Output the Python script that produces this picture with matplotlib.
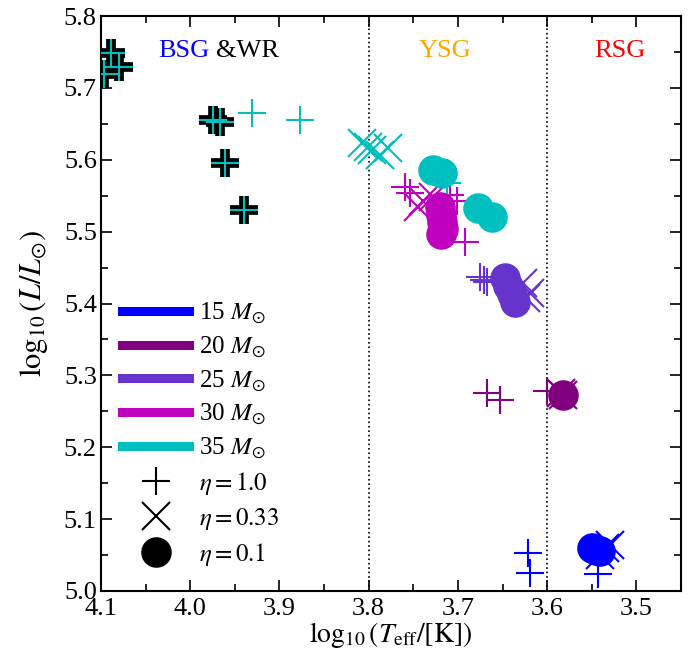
import matplotlib
matplotlib.use("Agg")
import matplotlib.pyplot as plt
from matplotlib.lines import Line2D
from matplotlib.ticker import MultipleLocator, FormatStrFormatter

plt.rcParams['font.family'] = ['Liberation Serif', 'DejaVu Serif']
plt.rcParams['mathtext.fontset'] = 'stix'

masses = ["15", "20", "25", "30", "35"]
colors = ["#0000ff", "#800080", "#6633cc", "#bf00bf", "#00bfbf"]

# eta = 1.0 (plus)
plus_T = {
    "15": [3.6213, 3.619, 3.5428],
    "20": [3.6673, 3.6527, 3.600],
    "25": [3.6751, 3.6706, 3.6673],
    "30": [3.759, 3.7536, 3.692, 3.7088, 3.701],
    "35": [3.9307, 3.8769, 3.712],
}
plus_L = {
    "15": [5.0528, 5.025, 5.0236],
    "20": [5.2754, 5.2656, 5.278],
    "25": [5.4367, 5.4325, 5.4298],
    "30": [5.562, 5.5535, 5.4855, 5.551, 5.542],
    "35": [5.665, 5.655, 5.567],
}
# 35 Msun eta=1.0 points drawn with a black outline
outl_T = [4.0888, 4.0798, 4.0966, 3.9744, 3.9666, 3.961, 3.9397]
outl_L = [5.748, 5.729, 5.720, 5.655, 5.652, 5.595, 5.530]

# eta = 0.33 (x)
x_T = {
    "15": [3.535, 3.5294, 3.5406],
    "20": [3.582, 3.585],
    "25": [3.6269, 3.619, 3.6235],
    "30": [3.739, 3.7278, 3.7446],
    "35": [3.8074, 3.8007, 3.7962, 3.7783, 3.7872],
}
x_L = {
    "15": [5.0598, 5.064, 5.050],
    "20": [5.2726, 5.275],
    "25": [5.428, 5.4145, 5.4075],
    "30": [5.542, 5.548, 5.534],
    "35": [5.623, 5.6175, 5.613, 5.616, 5.606],
}

# eta = 0.1 (circle)
c_T = {
    "15": [3.5496, 3.5451, 3.5406],
    "20": [3.582],
    "25": [3.647, 3.6437, 3.6392, 3.6359],
    "30": [3.720, 3.719, 3.7177, 3.7166, 3.719],
    "35": [3.7278, 3.7177, 3.6774, 3.6617],
}
c_L = {
    "15": [5.0598, 5.057, 5.0556],
    "20": [5.2726],
    "25": [5.4353, 5.424, 5.413, 5.402],
    "30": [5.534, 5.523, 5.513, 5.5035, 5.4965],
    "35": [5.5855, 5.581, 5.5327, 5.520],
}

fig = plt.figure(figsize=(6.97, 6.59), dpi=100)
ax = fig.add_axes([0.1449, 0.1032, 0.977 - 0.1449, 0.9757 - 0.1032])

ms = 20
for m, col in zip(masses, colors):
    ax.plot(plus_T[m], plus_L[m], ls='none', marker='+', ms=ms, mew=1.5, color=col, zorder=3)
ax.plot(outl_T, outl_L, ls='none', marker='+', ms=ms, mew=7, color='black', zorder=3)
ax.plot(outl_T, outl_L, ls='none', marker='+', ms=ms, mew=1.5, color=colors[4], zorder=3.1)
for m, col in zip(masses, colors):
    ax.plot(x_T[m], x_L[m], ls='none', marker='x', ms=ms, mew=1.5, color=col, zorder=4)
for m, col in zip(masses, colors):
    ax.plot(c_T[m], c_L[m], ls='none', marker='o', ms=22, mew=0, color=col, zorder=5)

ax.axvline(3.8, color='black', ls=':', lw=1.2, zorder=1)
ax.axvline(3.6, color='black', ls=':', lw=1.2, zorder=1)

ax.text(3.978, 5.752, "BSG", color='#0000ff', ha='right', va='center', fontsize=19)
ax.text(3.971, 5.752, "&WR", color='black', ha='left', va='center', fontsize=19)
ax.text(3.714, 5.752, "YSG", color='#ffa500', ha='center', va='center', fontsize=19)
ax.text(3.518, 5.752, "RSG", color='#ff0000', ha='center', va='center', fontsize=19)

ax.set_xlim(4.1, 3.45)
ax.set_ylim(5.0, 5.8)
ax.xaxis.set_major_locator(MultipleLocator(0.1))
ax.xaxis.set_minor_locator(MultipleLocator(0.05))
ax.yaxis.set_major_locator(MultipleLocator(0.1))
ax.yaxis.set_minor_locator(MultipleLocator(0.05))
ax.xaxis.set_major_formatter(FormatStrFormatter('%.1f'))
ax.yaxis.set_major_formatter(FormatStrFormatter('%.1f'))
ax.tick_params(which='both', direction='in', top=True, right=True, labelsize=19, width=1.2)
ax.tick_params(axis='x', which='major', pad=5)
ax.tick_params(axis='y', which='major', pad=3)
ax.tick_params(which='major', length=8)
ax.tick_params(which='minor', length=5)
for s in ax.spines.values():
    s.set_linewidth(1.5)

ax.set_xlabel(r"$\log_{10}(T_{\rm eff}/[{\rm K}])$", fontsize=20, labelpad=0)
ax.set_ylabel(r"$\log_{10}(L/L_{\odot})$", fontsize=22, labelpad=10)

handles = []
labels = []
for m, col in zip(masses, colors):
    handles.append(Line2D([], [], color=col, lw=6.5))
    labels.append(m + r" $M_{\odot}$")
handles.append(Line2D([], [], ls='none', marker='+', ms=20, mew=1.5, color='black'))
labels.append(r"$\eta = 1.0$")
handles.append(Line2D([], [], ls='none', marker='x', ms=20, mew=1.5, color='black'))
labels.append(r"$\eta = 0.33$")
handles.append(Line2D([], [], ls='none', marker='o', ms=22, mew=0, color='black'))
labels.append(r"$\eta = 0.1$")
leg = ax.legend(handles, labels, loc='upper left', bbox_to_anchor=(0.036, 0.505), frameon=False,
                fontsize=18, handlelength=2.7, labelspacing=0.35, handletextpad=0.4,
                borderaxespad=0.0, borderpad=0.0)

fig.savefig("out.png", dpi=100)
